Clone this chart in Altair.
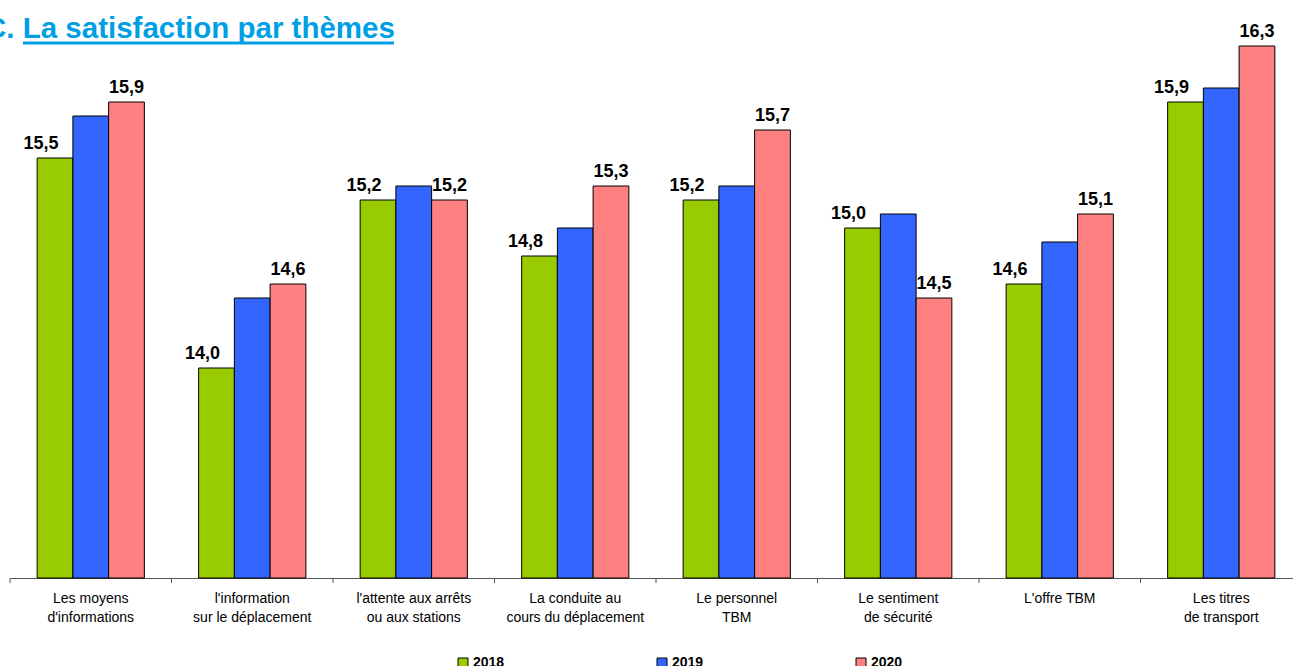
import altair as alt
import pandas as pd

# Satisfaction scores (out of 20) per theme and survey year
themes = [
    "Les moyens|d'informations",
    "l'information|sur le déplacement",
    "l'attente aux arrêts|ou aux stations",
    "La conduite au|cours du déplacement",
    "Le personnel|TBM",
    "Le sentiment|de sécurité",
    "L'offre TBM",
    "Les titres|de transport",
]
years = ["2018", "2019", "2020"]
scores_2018 = [15.5, 14.0, 15.2, 14.8, 15.2, 15.0, 14.6, 15.9]
scores_2019 = [15.8, 14.5, 15.3, 15.0, 15.3, 15.1, 14.9, 16.0]
scores_2020 = [15.9, 14.6, 15.2, 15.3, 15.7, 14.5, 15.1, 16.3]
year_colors = ["#99CC00", "#3366FF", "#FF8080"]
title_text = "C. La satisfaction par thèmes"

rows = []
for year, scores in zip(years, [scores_2018, scores_2019, scores_2020]):
    for theme, s in zip(themes, scores):
        rows.append({"theme": theme, "year": year, "score": s})
df = pd.DataFrame(rows)

FONT = "Liberation Sans"
W, H = 1283, 560
Y_MIN, Y_MAX = 12.5, 16.5

x_enc = alt.X(
    "theme:N",
    sort=themes,
    scale=alt.Scale(range=[0, 1292], paddingInner=0, paddingOuter=0),
    axis=alt.Axis(
        title=None,
        ticks=False,
        labelAngle=0,
        labelFont=FONT,
        labelFontSize=14,
        labelColor="black",
        labelPadding=13,
        labelLineHeight=19,
        labelExpr="split(datum.label, '|')",
        labelLimit=300,
        domainColor="#555555",
        domainWidth=1,
    ),
)
xoff_enc = alt.XOffset(
    "year:N", sort=years, scale=alt.Scale(paddingOuter=0.76, paddingInner=0)
)
y_enc = alt.Y(
    "score:Q",
    scale=alt.Scale(domain=[Y_MIN, Y_MAX], zero=False, nice=False),
    axis=None,
)

bars = alt.Chart(df).mark_bar(stroke="black", strokeWidth=1).encode(
    x=x_enc,
    xOffset=xoff_enc,
    y=y_enc,
    y2=alt.datum(Y_MIN),
    color=alt.Color(
        "year:N",
        scale=alt.Scale(domain=years, range=year_colors),
        legend=alt.Legend(
            title=None,
            orient="none",
            legendX=446,
            legendY=638,
            direction="horizontal",
            symbolType="square",
            symbolSize=100,
            symbolStrokeColor="black",
            symbolStrokeWidth=1,
            symbolOpacity=1,
            labelFont=FONT,
            labelFontSize=14,
            labelFontWeight="bold",
            labelColor="black",
            labelOffset=3,
            columnPadding=150,
        ),
    ),
)

# Value labels on the 2018 and 2020 bars
label_base = alt.Chart(df).transform_calculate(
    label="replace(format(datum.score, '.1f'), '.', ',')"
)
labels_2018 = label_base.transform_filter(alt.datum.year == "2018").mark_text(
    dx=-14, dy=-9, baseline="alphabetic", font=FONT, fontSize=18,
    fontWeight="bold", color="black",
).encode(x=x_enc, xOffset=xoff_enc, y=y_enc, text="label:N")
labels_2020 = label_base.transform_filter(alt.datum.year == "2020").mark_text(
    dx=0, dy=-9, baseline="alphabetic", font=FONT, fontSize=18,
    fontWeight="bold", color="black",
).encode(x=x_enc, xOffset=xoff_enc, y=y_enc, text="label:N")

# Category separators under the axis line
ticks_df = pd.DataFrame({"theme": themes})
ticks = alt.Chart(ticks_df).mark_rule(color="#555555", strokeWidth=1).encode(
    x=alt.X("theme:N", sort=themes, bandPosition=0),
    y=alt.value(H),
    y2=alt.value(H + 5),
)

# Heading with underline
title_df = pd.DataFrame({"t": [title_text]})
title = alt.Chart(title_df).mark_text(
    align="left", baseline="alphabetic", font=FONT, fontSize=29.5,
    fontWeight="bold", color="#009FE3",
).encode(x=alt.value(-25), y=alt.value(20), text="t:N")
underline = alt.Chart(title_df).mark_rule(color="#009FE3", strokeWidth=3).encode(
    x=alt.value(13), x2=alt.value(384), y=alt.value(25)
)

chart = alt.layer(
    bars, labels_2018, labels_2020, ticks, title, underline
).properties(
    width=W,
    height=H,
    background="white",
    autosize=alt.AutoSizeParams(type="none"),
    padding={"left": 10, "top": 18, "right": 0, "bottom": 88},
).configure_view(stroke=None)

chart.save("out.html", embed_options={"renderer": "svg", "actions": False})
